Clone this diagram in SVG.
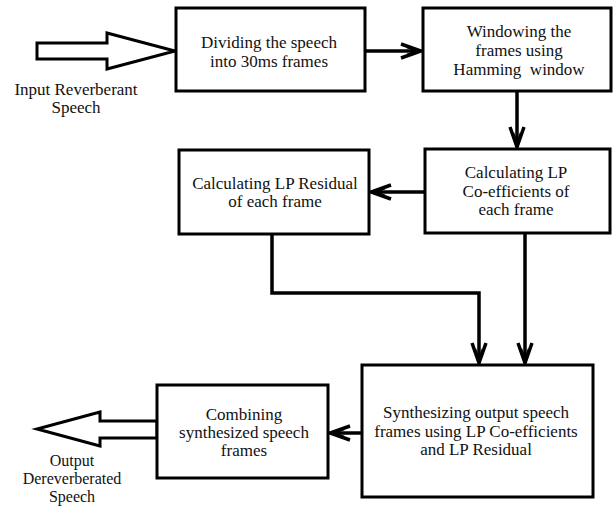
<svg xmlns="http://www.w3.org/2000/svg" width="613" height="508" viewBox="0 0 613 508">
<style>
.box{fill:#fff;stroke:#000;stroke-width:3}
.ln{fill:none;stroke:#000;stroke-width:3.5;marker-end:url(#ah)}
.fat{fill:#fff;stroke:#000;stroke-width:3;stroke-linejoin:miter}
text{font-family:"Liberation Serif","Times New Roman",serif;font-size:17px;fill:#111;text-anchor:middle}
.sm{font-size:16px}
</style>
<defs>
<marker id="ah" markerUnits="userSpaceOnUse" markerWidth="26" markerHeight="20" refX="23" refY="10" orient="auto" viewBox="0 0 26 20">
<path d="M3,3 L23,10 L3,17" fill="none" stroke="#000" stroke-width="3.5"/>
<path d="M9,6 L21,10 L9,14" fill="none" stroke="#000" stroke-width="2.5"/>
</marker>
</defs>
<rect width="613" height="508" fill="#fff"/>
<g id="connectors">
<polygon class="fat" points="37,43 107,43 107,33 175,51 107,69 107,59 37,59"/>
<polygon class="fat" points="157,421 100,421 100,412 37,429 100,446 100,438 157,438"/>
<path class="ln" d="M365,51 L421,51"/>
<path class="ln" d="M517,91 L517,147"/>
<path class="ln" d="M425,192 L371,192"/>
<path class="ln" d="M272,234 L272,293 L479,293 L479,363"/>
<path class="ln" d="M525,233 L525,363"/>
<path class="ln" d="M362,433 L330,433"/>
</g>
<g id="input-label">
<text x="76" y="95">Input Reverberant</text>
<text x="76" y="113">Speech</text>
</g>
<g id="dividing">
<rect class="box" x="176" y="8" width="189" height="83"/>
<text x="269" y="48">Dividing the speech</text>
<text x="269" y="67">into 30ms frames</text>
</g>
<g id="windowing">
<rect class="box" x="423" y="8" width="188" height="83"/>
<text x="519" y="37">Windowing the</text>
<text x="519" y="56">frames using</text>
<text x="519" y="75" xml:space="preserve">Hamming  window</text>
</g>
<g id="lp-residual">
<rect class="box" x="179" y="150" width="190" height="84"/>
<text x="275" y="189">Calculating LP Residual</text>
<text x="275" y="207">of each frame</text>
</g>
<g id="lp-coefficients">
<rect class="box" x="425" y="149" width="185" height="84"/>
<text x="516" y="178">Calculating LP</text>
<text x="516" y="197">Co-efficients of</text>
<text x="516" y="215">each frame</text>
</g>
<g id="synthesizing">
<rect class="box" x="362" y="365" width="231" height="132"/>
<text x="476" y="418">Synthesizing output speech</text>
<text x="476" y="437">frames using LP Co-efficients</text>
<text x="476" y="455">and LP Residual</text>
</g>
<g id="combining">
<rect class="box" x="157" y="385" width="171" height="93"/>
<text x="244" y="420">Combining</text>
<text x="244" y="438">synthesized speech</text>
<text x="244" y="456">frames</text>
</g>
<g id="output-label">
<text class="sm" x="72" y="466">Output</text>
<text class="sm" x="72" y="484">Dereverberated</text>
<text class="sm" x="72" y="502">Speech</text>
</g>
</svg>
